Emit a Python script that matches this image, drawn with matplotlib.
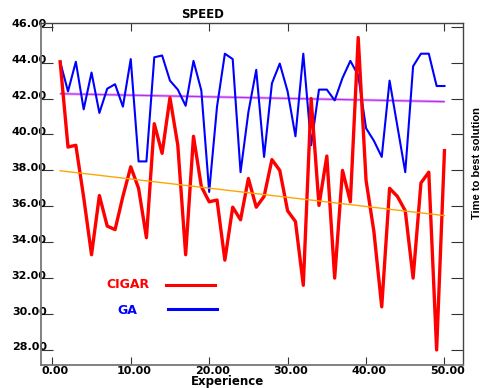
import matplotlib
matplotlib.use("Agg")
import matplotlib.pyplot as plt
import matplotlib.transforms as mtransforms

# ============================================================
# DATA
# ============================================================
experience = list(range(1, 51))

cigar = [44.05, 39.3, 39.4, 36.5, 33.3, 36.6, 34.9, 34.7, 36.55, 38.2,
         37.0, 34.25, 40.6, 38.95, 42.05, 39.4, 33.3, 39.9, 37.1, 36.25,
         36.35, 33.0, 35.95, 35.25, 37.55, 35.95, 36.55, 38.6, 38.0, 35.75,
         35.15, 31.6, 42.0, 36.05, 38.8, 32.0, 38.0, 36.25, 45.4, 37.45,
         34.6, 30.4, 37.0, 36.55, 35.75, 32.0, 37.3, 37.9, 28.0, 39.1]

ga = [44.05, 42.4, 44.05, 41.4, 43.45, 41.2, 42.55, 42.8, 41.55, 44.2,
      38.5, 38.5, 44.3, 44.4, 43.0, 42.5, 41.6, 44.1, 42.45, 36.8,
      41.55, 44.5, 44.2, 37.9, 41.25, 43.6, 38.75, 42.85, 43.95, 42.4,
      39.9, 44.5, 39.4, 42.5, 42.5, 41.9, 43.15, 44.1, 43.3, 40.35,
      39.65, 38.75, 43.0, 40.45, 37.9, 43.8, 44.5, 44.5, 42.7, 42.7]

# trend lines (end points only)
trend_x = [1, 50]
cigar_trend = [37.98, 35.48]
ga_trend = [42.27, 41.83]

x_ticks = [0, 10, 20, 30, 40, 50]
y_ticks = [28, 30, 32, 34, 36, 38, 40, 42, 44, 46]

W, H = 482, 388

# ============================================================
# FIGURE
# ============================================================
plt.rcParams["font.family"] = ["DejaVu Sans"]
plt.rcParams["font.weight"] = "bold"

fig = plt.figure(figsize=(W / 100, H / 100), dpi=100)
ax = fig.add_axes([40.7 / W, (H - 365) / H, 422.6 / W, 342 / H])

ax.plot(trend_x, ga_trend, color="#e8a0ff", lw=2.0, zorder=1, solid_capstyle="butt")
ax.plot(trend_x, ga_trend, color="#b030e8", lw=0.8, zorder=1.1)
ax.plot(experience, ga, color="#0000ff", lw=1.5, zorder=2)
ax.plot(experience, cigar, color="#ff0000", lw=2.4, zorder=3)
ax.plot(trend_x, cigar_trend, color="#ffa500", lw=1.0, zorder=4)

ax.set_xlim(-1.48, 52.4)
ax.set_ylim(27.16, 46.21)
ax.set_xticks(x_ticks)
ax.set_yticks(y_ticks)
ax.set_xticklabels([f"{v:.2f}" for v in x_ticks])
ax.set_yticklabels([f"{v:.2f}" for v in y_ticks])

ax.tick_params(axis="x", direction="in", top=True, length=5.8, width=0.8,
               color="#333333", pad=0.5, labelsize=8)
ax.tick_params(axis="y", direction="in", right=True, length=8.6, width=0.8,
               color="#333333", pad=-4.3, labelsize=8)

# labels sit a little right / above their ticks
dx = mtransforms.ScaledTranslation(0.03, 0, fig.dpi_scale_trans)
dy = mtransforms.ScaledTranslation(0, 0.035, fig.dpi_scale_trans)
for lab in ax.get_xticklabels():
    lab.set_transform(lab.get_transform() + dx)
for lab in ax.get_yticklabels():
    lab.set_transform(lab.get_transform() + dy)

for side in ["left", "bottom"]:
    ax.spines[side].set_color("#777777")
    ax.spines[side].set_linewidth(1.3)
for side in ["top", "right"]:
    ax.spines[side].set_color("#444444")
    ax.spines[side].set_linewidth(1.0)

# legend drawn by hand: text first, line sample after
ax.text(0.206, 0.234, "CIGAR", color="#ff0000", fontsize=9, fontweight="bold",
        ha="center", va="center", transform=ax.transAxes)
ax.plot([0.296, 0.412], [0.234, 0.234], color="#ff0000", lw=2.2, transform=ax.transAxes)
ax.text(0.206, 0.159, "GA", color="#0000ff", fontsize=9, fontweight="bold",
        ha="center", va="center", transform=ax.transAxes)
ax.plot([0.302, 0.418], [0.164, 0.164], color="#0000ff", lw=2.2, transform=ax.transAxes)

fig.text(203 / W, 1 - 14.7 / H, "SPEED", fontsize=8.5, fontweight="bold",
         ha="center", va="center")
fig.text(227 / W, 1 - 382 / H, "Experience", fontsize=8.5, fontweight="bold",
         ha="center", va="center")
fig.text(477.5 / W, 1 - 163 / H, "Time to best solution", fontsize=8,
         fontweight="bold", family=["Liberation Sans", "DejaVu Sans"],
         rotation=90, ha="center", va="center")

fig.savefig("out.png", dpi=100)
